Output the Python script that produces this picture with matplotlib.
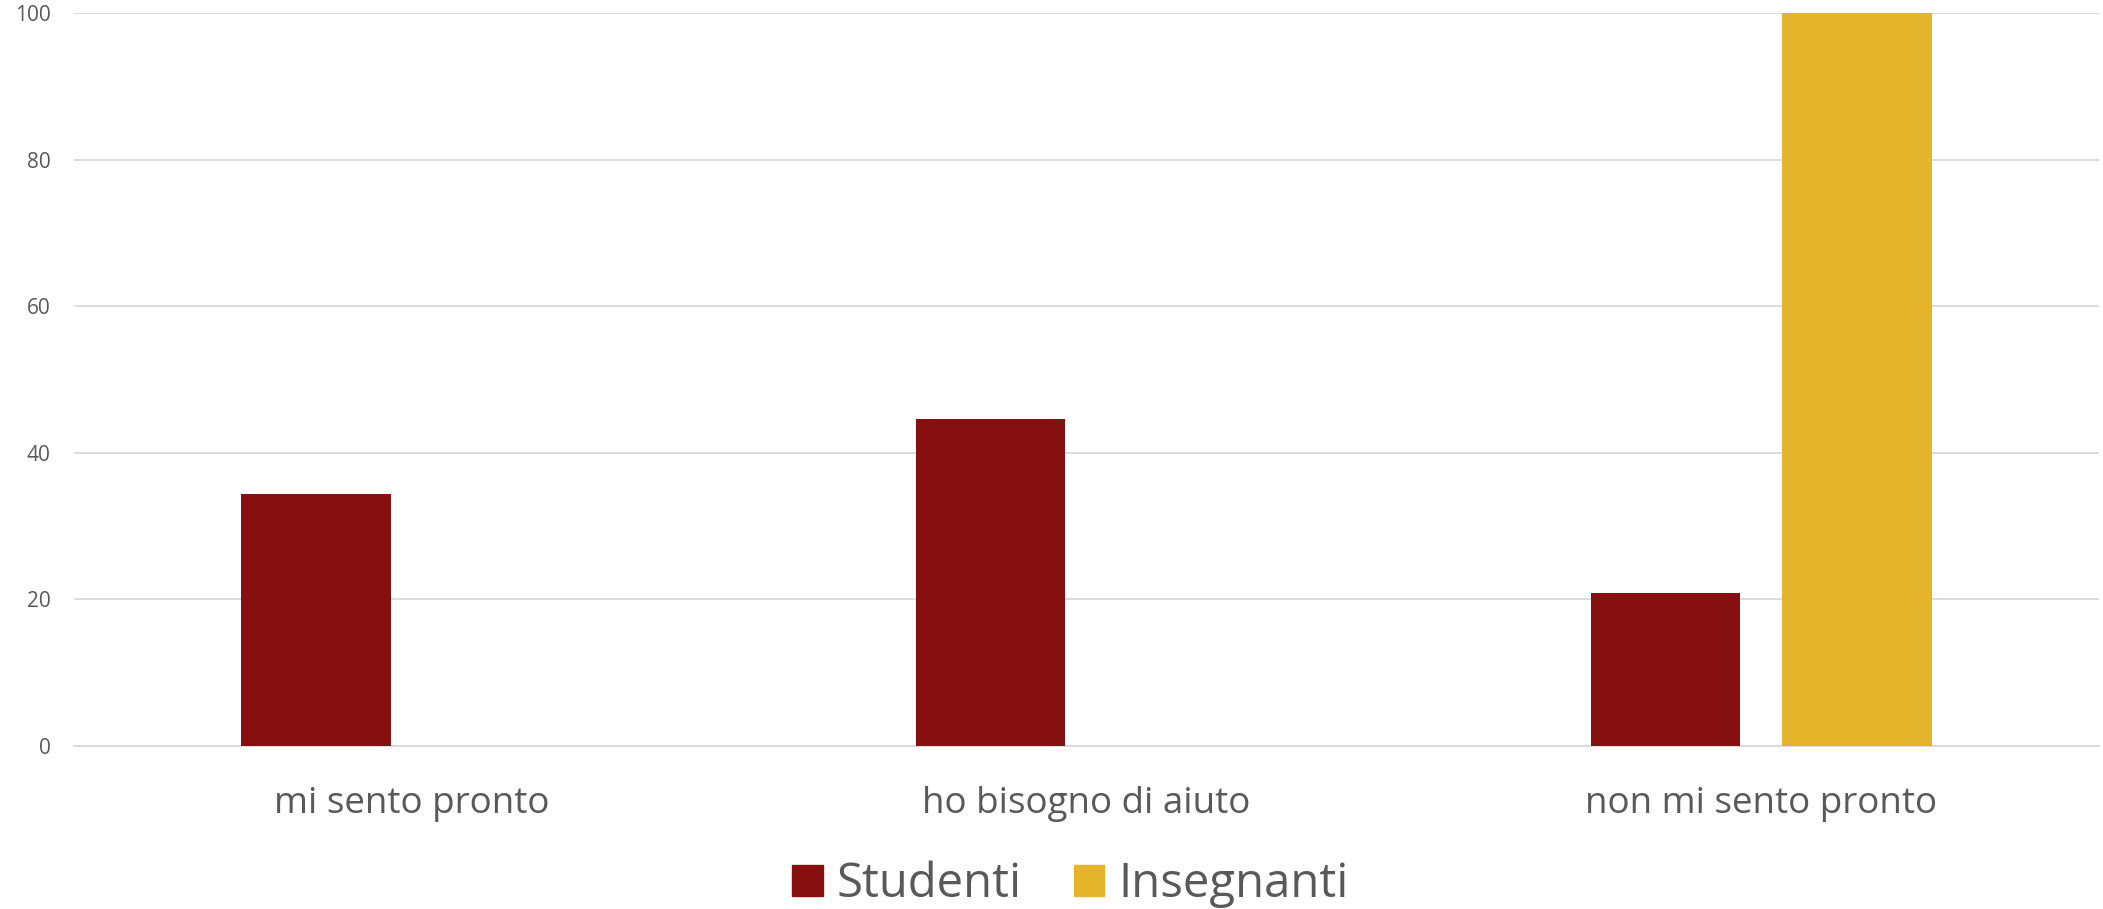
import numpy as np
import matplotlib
matplotlib.use('Agg')
import matplotlib.pyplot as plt
from matplotlib.patches import Patch

plt.rcParams['font.family'] = ['Open Sans', 'DejaVu Sans']

categorie = ['mi sento pronto', 'ho bisogno di aiuto', 'non mi sento pronto']
studenti = [34.4, 44.6, 20.8]
insegnanti = [0, 0, 100]
serie = ['Studenti', 'Insegnanti']
colori = ['#86100f', '#e4b52b']
yticks = [0, 20, 40, 60, 80, 100]

grigio = '#595959'

fig = plt.figure(figsize=(21.03, 9.09), dpi=100)
ax = fig.add_axes([0.0352, 0.1798, 0.9628, 0.8055])

x = np.arange(len(categorie))
larghezza = 0.222
offset = 0.142
ax.bar(x - offset, studenti, width=larghezza, color=colori[0], zorder=3)
ax.bar(x + offset, insegnanti, width=larghezza, color=colori[1], zorder=3)

ax.set_xlim(-0.5, 2.5)
ax.set_ylim(0, 100)
ax.set_yticks(yticks)
ax.set_yticklabels([str(v) for v in yticks])
ax.yaxis.grid(True, color='#d9d9d9', linewidth=1.3, zorder=0)
ax.set_axisbelow(True)
ax.tick_params(axis='y', length=0, pad=17, labelsize=15, labelcolor=grigio)
ax.set_xticks(x)
ax.set_xticklabels(categorie)
ax.tick_params(axis='x', length=0, pad=29, labelsize=26.5, labelcolor=grigio)
for s in ['top', 'right', 'left']:
    ax.spines[s].set_visible(False)
ax.spines['bottom'].set_color('#d9d9d9')
ax.spines['bottom'].set_linewidth(1.3)

handles = [Patch(color=c, label=l) for c, l in zip(colori, serie)]
leg = fig.legend(handles=handles, loc='center', bbox_to_anchor=(0.509, 0.027),
                 ncol=2, frameon=False, fontsize=34, handlelength=0.65,
                 handleheight=0.65, handletextpad=0.3, columnspacing=1.1)
for t in leg.get_texts():
    t.set_color(grigio)

fig.savefig('out.png', dpi=100, facecolor='white')
